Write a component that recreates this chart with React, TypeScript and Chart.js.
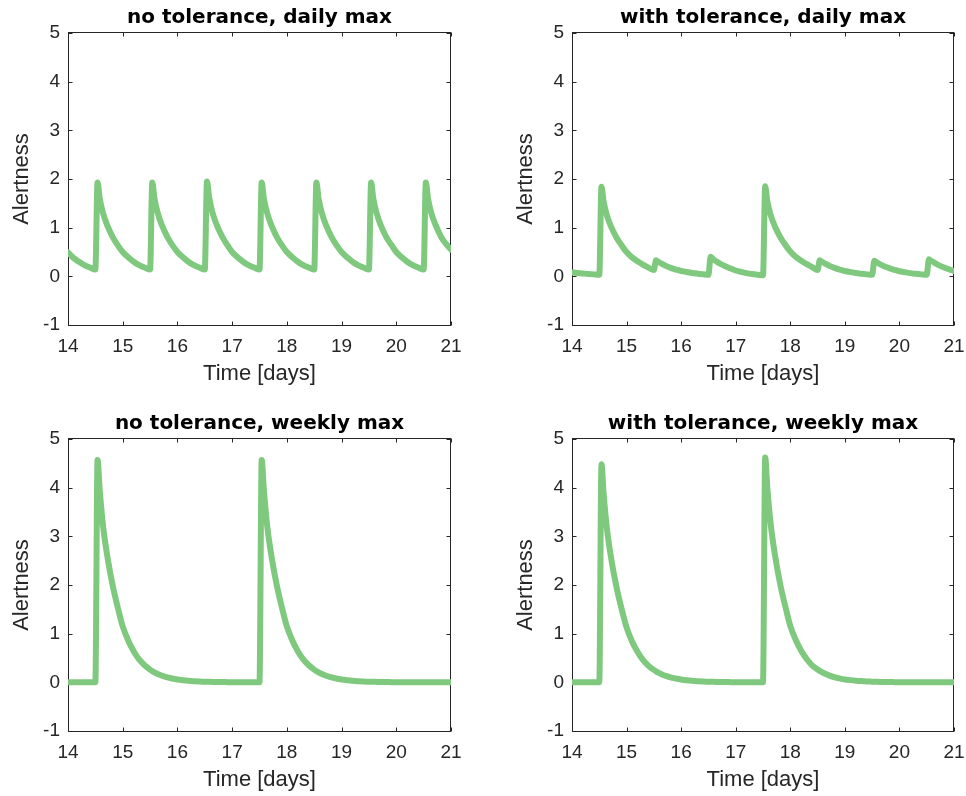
import React, { useEffect, useRef } from 'react';
import { Chart, registerables } from 'chart.js';

Chart.register(...registerables);

// sample times [days]
const TIME = [
  14, 14.1, 14.2, 14.3, 14.4, 14.5, 14.54, 14.58, 14.64, 14.72, 14.82, 14.92,
  15, 15.1, 15.2, 15.3, 15.4, 15.5, 15.54, 15.58, 15.64, 15.72, 15.82, 15.92,
  16, 16.1, 16.2, 16.3, 16.4, 16.5, 16.54, 16.58, 16.64, 16.72, 16.82, 16.92,
  17, 17.1, 17.2, 17.3, 17.4, 17.5, 17.54, 17.58, 17.64, 17.72, 17.82, 17.92,
  18, 18.1, 18.2, 18.3, 18.4, 18.5, 18.54, 18.58, 18.64, 18.72, 18.82, 18.92,
  19, 19.1, 19.2, 19.3, 19.4, 19.5, 19.54, 19.58, 19.64, 19.72, 19.82, 19.92,
  20, 20.1, 20.2, 20.3, 20.4, 20.5, 20.54, 20.58, 20.64, 20.72, 20.82, 20.92,
  21,
];

const NT_DAILY = [
  0.49, 0.38, 0.3, 0.23, 0.18, 0.14, 1.93, 1.6, 1.3, 1.04, 0.8, 0.62,
  0.5, 0.39, 0.3, 0.23, 0.18, 0.14, 1.93, 1.6, 1.3, 1.04, 0.8, 0.62,
  0.5, 0.39, 0.3, 0.23, 0.18, 0.14, 1.95, 1.62, 1.31, 1.05, 0.81, 0.63,
  0.5, 0.39, 0.3, 0.23, 0.18, 0.14, 1.93, 1.6, 1.3, 1.04, 0.8, 0.62,
  0.5, 0.39, 0.3, 0.23, 0.18, 0.14, 1.93, 1.6, 1.3, 1.04, 0.8, 0.62,
  0.5, 0.39, 0.3, 0.23, 0.18, 0.14, 1.93, 1.6, 1.3, 1.04, 0.8, 0.63,
  0.5, 0.39, 0.3, 0.23, 0.18, 0.14, 1.93, 1.6, 1.3, 1.05, 0.81, 0.65,
  0.55,
];

const WT_DAILY = [
  0.08, 0.07, 0.06, 0.05, 0.04, 0.03, 1.84, 1.53, 1.25, 1.01, 0.79, 0.62,
  0.5, 0.39, 0.31, 0.24, 0.18, 0.13, 0.33, 0.3, 0.26, 0.215, 0.17, 0.135,
  0.11, 0.09, 0.07, 0.055, 0.042, 0.03, 0.4, 0.36, 0.31, 0.255, 0.2, 0.155,
  0.12, 0.09, 0.065, 0.047, 0.033, 0.02, 1.85, 1.54, 1.26, 1.02, 0.8, 0.63,
  0.51, 0.4, 0.32, 0.25, 0.19, 0.13, 0.33, 0.3, 0.26, 0.215, 0.17, 0.135,
  0.11, 0.088, 0.068, 0.053, 0.04, 0.03, 0.32, 0.29, 0.25, 0.205, 0.165, 0.13,
  0.105, 0.085, 0.066, 0.051, 0.04, 0.03, 0.35, 0.32, 0.28, 0.23, 0.18, 0.14,
  0.11,
];

const NT_WEEKLY = [
  0, 0, 0, 0, 0, 0, 4.57, 3.95, 3.22, 2.58, 1.97, 1.49,
  1.15, 0.86, 0.64, 0.47, 0.35, 0.26, 0.23, 0.205, 0.172, 0.135, 0.1, 0.074,
  0.059, 0.044, 0.032, 0.024, 0.018, 0.013, 0.012, 0.011, 0.009, 0.007, 0.005, 0.004,
  0.003, 0.002, 0.002, 0.001, 0, 0, 4.57, 3.95, 3.22, 2.58, 1.97, 1.49,
  1.15, 0.86, 0.64, 0.47, 0.35, 0.26, 0.23, 0.205, 0.172, 0.135, 0.1, 0.074,
  0.059, 0.044, 0.032, 0.024, 0.018, 0.013, 0.012, 0.011, 0.009, 0.007, 0.005, 0.004,
  0.003, 0.002, 0.002, 0.001, 0, 0, 0, 0, 0, 0, 0, 0,
  0,
];

const WT_WEEKLY = [
  0, 0, 0, 0, 0, 0, 4.48, 3.87, 3.16, 2.53, 1.93, 1.46,
  1.13, 0.84, 0.63, 0.46, 0.34, 0.255, 0.225, 0.2, 0.168, 0.132, 0.098, 0.073,
  0.058, 0.043, 0.032, 0.024, 0.018, 0.013, 0.012, 0.011, 0.009, 0.007, 0.005, 0.004,
  0.003, 0.002, 0.002, 0.001, 0, 0, 4.62, 3.99, 3.26, 2.61, 1.99, 1.51,
  1.16, 0.87, 0.65, 0.48, 0.35, 0.265, 0.235, 0.21, 0.175, 0.137, 0.102, 0.076,
  0.06, 0.045, 0.033, 0.025, 0.019, 0.014, 0.012, 0.011, 0.009, 0.007, 0.005, 0.004,
  0.003, 0.002, 0.002, 0.001, 0, 0, 0, 0, 0, 0, 0, 0,
  0,
];

const X_TICKS = [14, 15, 16, 17, 18, 19, 20, 21];
const Y_TICKS = [-1, 0, 1, 2, 3, 4, 5];

const TITLES = [
  'no tolerance, daily max',
  'with tolerance, daily max',
  'no tolerance, weekly max',
  'with tolerance, weekly max',
];
const X_LABEL = 'Time [days]';
const Y_LABEL = 'Alertness';

const LINE_COLOR = '#7fc97f';
const AXIS_COLOR = '#262626';
const SANS = '"Liberation Sans", Arial, Helvetica, sans-serif';
const TICK_LEN = 4;

const framePlugin = {
  id: 'matlabFrame',
  beforeDatasetsDraw(chart: any) {
    const { ctx, chartArea: a } = chart;
    const xs = chart.scales.x;
    const ys = chart.scales.y;
    const L = Math.round(a.left) + 0.5;
    const R = Math.round(a.right) - 0.5;
    const T = Math.round(a.top) - 0.5;
    const B = Math.round(a.bottom) + 0.5;
    ctx.save();
    ctx.strokeStyle = AXIS_COLOR;
    ctx.lineWidth = 1;
    ctx.beginPath();
    X_TICKS.forEach((v) => {
      const p = Math.round(xs.getPixelForValue(v)) + 0.5;
      ctx.moveTo(p, B);
      ctx.lineTo(p, B - TICK_LEN);
      ctx.moveTo(p, T);
      ctx.lineTo(p, T + TICK_LEN);
    });
    Y_TICKS.forEach((v) => {
      const p = Math.round(ys.getPixelForValue(v)) + 0.5;
      ctx.moveTo(L, p);
      ctx.lineTo(L + TICK_LEN, p);
      ctx.moveTo(R, p);
      ctx.lineTo(R - TICK_LEN, p);
    });
    ctx.stroke();
    ctx.strokeRect(L, T, R - L, B - T);
    ctx.restore();
  },
};

type PanelProps = {
  title: string;
  values: number[];
  left: number;
  top: number;
  width: number;
  height: number;
  padRight: number;
};

function Panel({ title, values, left, top, width, height, padRight }: PanelProps) {
  const ref = useRef<HTMLCanvasElement | null>(null);
  useEffect(() => {
    if (!ref.current) return;
    const points = TIME.map((t, i) => ({ x: t, y: values[i] }));
    const chart = new Chart(ref.current, {
      type: 'line',
      data: {
        datasets: [
          {
            data: points,
            borderColor: LINE_COLOR,
            backgroundColor: LINE_COLOR,
            borderWidth: 6,
            pointRadius: 0,
            cubicInterpolationMode: 'monotone',
            borderJoinStyle: 'round',
            borderCapStyle: 'round',
            fill: false,
          },
        ],
      },
      options: {
        responsive: false,
        animation: false,
        devicePixelRatio: 1,
        layout: { padding: { left: 0, right: padRight, top: 0, bottom: 0 } },
        plugins: {
          legend: { display: false },
          tooltip: { enabled: false },
          title: {
            display: true,
            text: title,
            fullSize: false,
            color: '#000000',
            font: { family: '"DejaVu Sans", sans-serif', size: 20, weight: 'bold', lineHeight: 1.2 },
            padding: { top: 6, bottom: 3 },
          },
        },
        scales: {
          x: {
            type: 'linear',
            min: 14,
            max: 21,
            grid: { display: false, drawTicks: false },
            border: { display: false },
            afterFit: (s: any) => {
              s.height = 73;
            },
            afterBuildTicks: (s: any) => {
              s.ticks = X_TICKS.map((v) => ({ value: v }));
            },
            ticks: {
              color: AXIS_COLOR,
              font: { family: SANS, size: 19 },
              padding: 10,
              maxRotation: 0,
              autoSkip: false,
            },
            title: {
              display: true,
              text: X_LABEL,
              color: AXIS_COLOR,
              font: { family: SANS, size: 22, lineHeight: 1.2 },
              padding: { top: 0, bottom: 11 },
            },
          },
          y: {
            type: 'linear',
            min: -1,
            max: 5,
            grid: { display: false, drawTicks: false },
            border: { display: false },
            afterFit: (s: any) => {
              s.width = 68;
            },
            afterBuildTicks: (s: any) => {
              s.ticks = Y_TICKS.map((v) => ({ value: v }));
            },
            ticks: {
              color: AXIS_COLOR,
              font: { family: SANS, size: 19 },
              padding: 8,
              autoSkip: false,
            },
            title: {
              display: true,
              text: Y_LABEL,
              color: AXIS_COLOR,
              font: { family: SANS, size: 22, lineHeight: 1.2 },
              padding: { top: 8.5, bottom: 0 },
            },
          },
        },
      },
      plugins: [framePlugin],
    } as any);
    return () => chart.destroy();
  }, [title, values, width, height, padRight]);

  return (
    <canvas
      ref={ref}
      width={width}
      height={height}
      style={{ position: 'absolute', left, top, width, height, display: 'block' }}
    />
  );
}

const PANELS = [
  { title: TITLES[0], values: NT_DAILY, left: 0, top: 0, width: 483, padRight: 32 },
  { title: TITLES[1], values: WT_DAILY, left: 504, top: 0, width: 483, padRight: 33 },
  { title: TITLES[2], values: NT_WEEKLY, left: 0, top: 406, width: 483, padRight: 32 },
  { title: TITLES[3], values: WT_WEEKLY, left: 504, top: 406, width: 483, padRight: 33 },
];

export default function App() {
  return (
    <div
      style={{
        position: 'absolute',
        left: 0,
        top: 0,
        width: 966,
        height: 796,
        overflow: 'hidden',
        background: '#ffffff',
      }}
    >
      {PANELS.map((p) => (
        <Panel key={p.title} {...p} height={398} />
      ))}
    </div>
  );
}
